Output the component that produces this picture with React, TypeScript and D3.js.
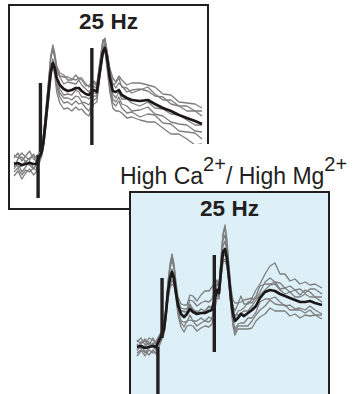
import React from "react";
import * as d3 from "d3";

// ---------- Panel 1 (control, 25 Hz) ----------
const P1_TIME = [
  -19, -16, -13, -10, -7, -4, -2,
  2.3, 3.8, 5.4, 7.7, 9.2, 10.8, 12.3, 13.8, 16.2, 19.2, 22.3, 25.4, 28.5, 30.8, 33, 36.2, 38.5,
  42.3, 44.6, 46.9, 49.2, 50.8, 52.3, 54.6, 56.9, 59.2, 61.5, 63.8, 67.7, 71.5, 77.7, 83.8, 89.2, 95.4, 101.5, 107.7, 113.8, 120, 125.4,
];
const P1_MEAN = [
  0, 1, -1, 0, 1, 0, 0,
  12, 24, 44, 74, 92, 101, 96, 86, 79, 75, 73, 74, 76, 76, 73, 70, 69,
  74, 72, 92, 112, 116, 108, 86, 73, 72, 74, 69, 66, 64, 63, 64, 60, 56, 53, 49, 46, 43, 40,
];
const P1_TRIAL_DEV = [
  [6, 10, 4, 8, 12, 5, 3,
   4, 6, 8, 10, 14, 18, 15, 12, 12, 14, 11, 10, 13, 9, 11, 8, 10,
   7, 6, 8, 10, 10, 7, 10, 13, 10, 14, 15, 13, 17, 18, 15, 17, 14, 16, 13, 15, 17, 16],
  [-3, 4, 8, 2, 5, 9, 2,
   2, 4, 5, 8, 12, 14, 10, 6, 8, 5, 9, 7, 4, 8, 6, 5, 3,
   4, 3, 5, 8, 9, 5, 6, 8, 4, 7, 9, 6, 10, 12, 9, 8, 11, 7, 9, 12, 10, 13],
  [2, -4, -1, 3, -2, -5, -1,
   -2, -3, -4, -3, -2, 4, 2, -2, -4, -6, -3, -5, -2, -4, -6, -3, -4,
   -3, -2, 2, 3, 5, -2, -4, -3, -6, -2, -4, -1, -3, -5, -2, -4, -1, -3, 0, -2, -4, -1],
  [-8, -5, -10, -6, -9, -4, -6,
   -3, -5, -6, -6, -4, 0, -4, -8, -12, -14, -11, -15, -13, -16, -12, -14, -16,
   -10, -6, -4, -2, 0, -8, -10, -12, -14, -11, -13, -15, -12, -16, -14, -11, -15, -13, -16, -14, -12, -15],
  [-12, -8, -14, -9, -6, -11, -8,
   -4, -6, -8, -10, -8, -2, -8, -14, -18, -20, -17, -21, -19, -22, -18, -20, -21,
   -14, -10, -6, -4, -2, -10, -14, -17, -19, -21, -18, -20, -17, -19, -22, -18, -20, -23, -19, -21, -24, -20],
  [9, 5, 12, 7, 3, 10, 6,
   5, 7, 10, 12, 16, 16, 12, 10, 9, 12, 14, 11, 8, 10, 13, 10, 8,
   9, 8, 10, 12, 8, 4, 8, 6, 9, 12, 8, 10, 7, 11, 13, 10, 8, 11, 9, 7, 10, 8],
  [-5, 0, -7, -3, 2, -4, -2,
   -1, -2, -3, -4, -4, 2, -1, -6, -8, -9, -7, -10, -8, -9, -11, -9, -10,
   -6, -4, -1, 0, 2, -5, -7, -8, -10, -7, -9, -8, -11, -9, -7, -10, -8, -11, -9, -7, -10, -8],
];
// stimulus artifacts: [time, top value, bottom value]
const P1_ARTIFACTS: [number, number, number][] = [
  [-0.5, 9, -34],
  [1.3, 81, 12],
  [40.8, 116, 19],
];

// ---------- Panel 2 (High Ca2+/High Mg2+, 25 Hz) ----------
const P2_TIME = [
  -16.7, -13.8, -10.9, -8, -5.1, -2.9,
  2.9, 4.4, 5.8, 7.3, 8.7, 10.2, 11.6, 13.1, 15.3, 17.5, 19.6, 21.8, 24, 26.9, 29.8, 32.7, 35.6, 37.8,
  41.5, 42.9, 44.4, 45.8, 47.3, 48.7, 50.2, 51.6, 53.1, 54.5, 56.7, 58.9, 61.1, 64, 66.9, 69.8, 72.7, 76.4, 80, 83.6,
  87.3, 90.9, 94.5, 98.2, 101.8, 105.5, 109.1, 112.7, 117.8,
];
const P2_MEAN = [
  0, 1, -1, 0, 1, 0,
  17, 35, 55, 69, 75, 69, 55, 42, 33, 30, 33, 38, 35, 33, 34, 34, 36, 37,
  57, 54, 77, 95, 98, 89, 69, 49, 33, 26, 29, 33, 31, 34, 37, 41, 49, 55, 57, 56,
  53, 51, 49, 47, 45, 45, 46, 44, 42,
];
const P2_TRIAL_DEV = [
  [5, 8, 3, 9, 6, 4,
   4, 6, 10, 14, 18, 14, 10, 8, 10, 12, 9, 14, 16, 13, 18, 22, 20, 23,
   10, 8, 12, 18, 24, 18, 12, 10, 14, 18, 15, 12, 16, 14, 12, 16, 14, 18, 24, 28, 20, 22, 17, 21, 18, 20, 16, 19, 17],
  [-2, 4, 7, 2, 8, 3,
   2, 4, 6, 9, 12, 10, 6, 4, 6, 8, 5, 9, 11, 8, 10, 12, 9, 11,
   6, 5, 8, 12, 14, 10, 6, 5, 8, 10, 14, 18, 12, 9, 11, 8, 6, 10, 12, 9, 11, 8, 12, 10, 13, 9, 12, 14, 11],
  [3, -3, 1, 5, -1, -3,
   0, -2, -3, 0, 3, 2, 0, -2, 3, 5, 2, 4, 1, 3, 0, 2, 4, 1,
   2, 3, 4, 6, 8, 5, 3, 2, 4, 6, 3, 1, 5, 2, 4, 6, 3, 2, 5, 7, 4, 2, 6, 3, 5, 8, 4, 6, 3],
  [-6, -4, -8, -3, -7, -5,
   -3, -5, -6, -7, -8, -6, -4, -6, -8, -10, -7, -11, -9, -12, -10, -8, -11, -9,
   -5, -4, -6, -8, -10, -6, -4, -6, -9, -11, -8, -12, -10, -13, -11, -9, -12, -14, -10, -13, -11, -9, -12, -10, -8, -11, -9, -12, -10],
  [-9, -5, -3, -8, -4, -7,
   -4, -6, -8, -10, -12, -8, -6, -10, -13, -15, -12, -16, -14, -17, -15, -13, -16, -14,
   -8, -6, -8, -10, -12, -8, -6, -10, -12, -14, -11, -15, -13, -16, -18, -15, -19, -22, -18, -20, -17, -15, -18, -14, -16, -13, -15, -12, -14],
  [7, 2, 9, 4, 1, 6,
   3, 5, 8, 12, 16, 12, 8, 5, 3, 6, 2, 5, 3, 1, 4, 2, 5, 3,
   8, 6, 10, 16, 22, 14, 8, 4, 6, 3, 7, 4, 8, 11, 7, 10, 12, 8, 6, 9, 5, 8, 6, 10, 7, 12, 9, 6, 8],
  [-4, 1, -5, -1, 3, -2,
   -1, -3, -4, -5, -3, -4, -2, -5, -7, -5, -8, -6, -9, -7, -5, -8, -6, -9,
   -4, -3, -5, -6, -4, -3, -4, -7, -5, -8, -6, -9, -7, -5, -8, -6, -4, -7, -9, -6, -8, -10, -7, -9, -6, -8, -5, -7, -9],
];
const P2_ARTIFACTS: [number, number, number][] = [
  [-1.5, 0, -52],
  [1.5, 69, 9],
  [39.5, 92, -5],
];

const TITLE = "25 Hz";
const LABEL_PARTS = ["High Ca", "2+", "/ High Mg", "2+"];

const INK = "#231f20";
const GRAY = "#7e7e7e";
const FONT = "'Liberation Sans', Arial, Helvetica, sans-serif";

type PanelProps = {
  time: number[];
  mean: number[];
  devs: number[][];
  artifacts: [number, number, number][];
  xRange: [number, number];
  yRange: [number, number];
  box: { x: number; y: number; w: number; h: number };
  fill: string;
  titleY: number;
};

function Panel({ time, mean, devs, artifacts, xRange, yRange, box, fill, titleY }: PanelProps) {
  const x = d3.scaleLinear().domain([time[0], time[time.length - 1]]).range(xRange);
  const y = d3.scaleLinear().domain([0, 100]).range(yRange);
  const line = d3
    .line<number>()
    .x((_, i) => x(time[i]))
    .y((d) => y(d));
  return (
    <g>
      <rect x={box.x} y={box.y} width={box.w} height={box.h} fill={fill} stroke={INK} strokeWidth={2} />
      {devs.map((dev, k) => (
        <path
          key={k}
          d={line(mean.map((m, i) => m + dev[i])) || ""}
          fill="none"
          stroke={GRAY}
          strokeWidth={1.3}
          strokeLinejoin="round"
        />
      ))}
      <path d={line(mean) || ""} fill="none" stroke="#1c1819" strokeWidth={2.7} strokeLinejoin="round" />
      {artifacts.map(([t, top, bot], i) => (
        <line key={i} x1={x(t)} x2={x(t)} y1={y(top)} y2={y(bot)} stroke={INK} strokeWidth={3.4} />
      ))}
      <text
        x={box.x + box.w / 2}
        y={titleY}
        textAnchor="middle"
        fontFamily={FONT}
        fontWeight="bold"
        fontSize={22.5}
        fill={INK}
      >
        {TITLE}
      </text>
    </g>
  );
}

export default function App() {
  return (
    <div style={{ position: "absolute", left: 0, top: 0 }}>
      <svg width={356} height={394} style={{ display: "block", background: "#fff" }}>
        <Panel
          time={P1_TIME}
          mean={P1_MEAN}
          devs={P1_TRIAL_DEV}
          artifacts={P1_ARTIFACTS}
          xRange={[14, 202]}
          yRange={[164, 64]}
          box={{ x: 9, y: 5, w: 199, h: 204 }}
          fill="#ffffff"
          titleY={28.5}
        />
        <rect x={113} y={144} width={243} height={47} fill="#ffffff" />
        <text x={120} y={184} fontFamily={FONT} fontSize={23} fill={INK}>
          <tspan>{LABEL_PARTS[0]}</tspan>
          <tspan fontSize={20} dy={-13}>{LABEL_PARTS[1]}</tspan>
          <tspan dy={13}>{LABEL_PARTS[2]}</tspan>
          <tspan fontSize={20} dy={-13}>{LABEL_PARTS[3]}</tspan>
        </text>
        <Panel
          time={P2_TIME}
          mean={P2_MEAN}
          devs={P2_TRIAL_DEV}
          artifacts={P2_ARTIFACTS}
          xRange={[137, 322]}
          yRange={[347, 247]}
          box={{ x: 130, y: 192, w: 199, h: 204 }}
          fill="#ddf0f8"
          titleY={215.5}
        />
      </svg>
    </div>
  );
}
